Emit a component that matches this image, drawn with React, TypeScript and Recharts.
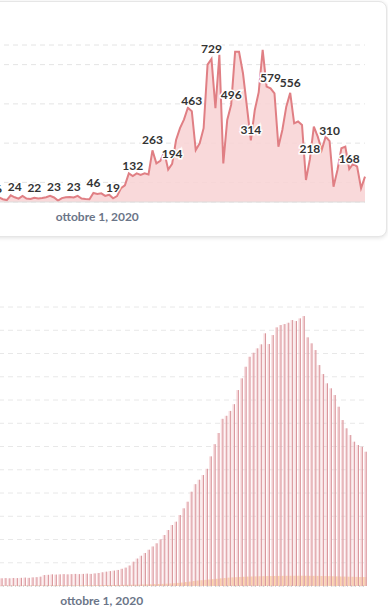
import React from 'react';
import { AreaChart, Area, BarChart, Bar, XAxis, YAxis, CartesianGrid, LabelList } from 'recharts';

// giorni dal 5 settembre all'8 dicembre 2020
const days = [
  '09-05', '09-06', '09-07', '09-08', '09-09', '09-10', '09-11', '09-12', '09-13', '09-14',
  '09-15', '09-16', '09-17', '09-18', '09-19', '09-20', '09-21', '09-22', '09-23', '09-24',
  '09-25', '09-26', '09-27', '09-28', '09-29', '09-30',
  '10-01', '10-02', '10-03', '10-04', '10-05', '10-06', '10-07', '10-08', '10-09', '10-10',
  '10-11', '10-12', '10-13', '10-14', '10-15', '10-16', '10-17', '10-18', '10-19', '10-20',
  '10-21', '10-22', '10-23', '10-24', '10-25', '10-26', '10-27', '10-28', '10-29', '10-30', '10-31',
  '11-01', '11-02', '11-03', '11-04', '11-05', '11-06', '11-07', '11-08', '11-09', '11-10',
  '11-11', '11-12', '11-13', '11-14', '11-15', '11-16', '11-17', '11-18', '11-19', '11-20',
  '11-21', '11-22', '11-23', '11-24', '11-25', '11-26', '11-27', '11-28', '11-29', '11-30',
  '12-01', '12-02', '12-03', '12-04', '12-05', '12-06', '12-07', '12-08',
];

const daily = [
  16, 24, 14, 10, 34, 24, 17, 31, 18, 15,
  22, 18, 20, 24, 31, 23, 7, 20, 24, 25,
  23, 31, 18, 15, 14, 46, 41, 44, 31, 37,
  19, 30, 70, 85, 146, 132, 146, 138, 146, 140,
  263, 197, 210, 255, 165, 194, 316, 376, 420, 480,
  463, 265, 299, 376, 700, 729, 478, 750, 197, 418,
  496, 765, 765, 656, 486, 314, 469, 560, 775, 588,
  579, 554, 282, 367, 486, 556, 401, 410, 393, 112,
  218, 384, 333, 265, 333, 310, 78, 163, 274, 282,
  168, 195, 180, 70, 129,
];

const ward = [
  330, 340, 330, 345, 340, 350, 360, 350, 370, 380,
  400, 470, 480, 500, 490, 500, 510, 500, 510, 520,
  510, 520, 530, 520, 540, 560, 590, 615, 640, 660,
  690, 740, 790, 880, 1045, 1180, 1300, 1420, 1560, 1700,
  1836, 2008, 2193, 2408, 2623, 2765, 3053, 3341, 3625, 4055,
  4380, 4570, 4773, 5040, 5575, 6100, 6580, 7190, 7320, 7530,
  7820, 8428, 8931, 9430, 9860, 10032, 10221, 10393, 10866, 10406,
  10793, 11124, 11223, 11266, 11322, 11438, 11395, 11510, 11610, 10694,
  10436, 10148, 9503, 9116, 8716, 8501, 8213, 7710, 7138, 6781,
  6493, 6205, 6063, 5990, 5775,
];

const icu = [
  18, 20, 19, 21, 20, 22, 21, 23, 22, 24,
  25, 24, 26, 27, 26, 28, 29, 28, 30, 31,
  30, 32, 33, 35, 34, 36, 38, 40, 41, 43,
  45, 47, 50, 52, 55, 58, 61, 65, 70, 75,
  80, 86, 92, 100, 110, 120, 135, 150, 170, 190,
  215, 235, 250, 265, 280, 295, 310, 330, 345, 360,
  372, 380, 390, 398, 405, 410, 415, 420, 425, 428,
  430, 432, 434, 436, 438, 440, 440, 441, 442, 440,
  438, 436, 434, 430, 428, 425, 420, 415, 410, 405,
  400, 396, 392, 388, 385,
];

const dateTicks = ['10-01'];
const dateLabel = 'ottobre 1, 2020';
const topTicks = [0, 100, 200, 300, 400, 500, 600, 700];
const bottomTicks = [0, 1000, 2000, 3000, 4000, 5000, 6000, 7000, 8000, 9000, 10000, 11000];

const topData = days.map((day, i) => ({ day, value: daily[i] }));
const bottomData = days.map((day, i) => ({ day, ward: ward[i], icu: icu[i] }));

const font = 'Lato, "Open Sans", sans-serif';
const tickStyle = { fontSize: 12, fontWeight: 700, fill: '#6b7588', fontFamily: font };

const EveryFifth = (props: any) => {
  const { x, y, value, index } = props;
  if (index % 5 !== 0) return null;
  return (
    <text
      x={x}
      y={y - 6}
      textAnchor="middle"
      fontSize={12}
      fontWeight={700}
      fontFamily={font}
      fill="#333"
      stroke="#fff"
      strokeWidth={3}
      paintOrder="stroke"
    >
      {value}
    </text>
  );
};

const StripeBar = (props: any) => {
  const { x, y, width, height } = props;
  if (!height || height <= 0) return null;
  return (
    <g>
      <rect x={x} y={y} width={width} height={height} fill="#f2c4c8" fillOpacity={0.6} />
      <rect x={x + width - 1} y={y} width={1} height={height} fill="#d9979d" />
    </g>
  );
};

export default function App() {
  return (
    <div style={{ position: 'absolute', left: 0, top: 0, width: 388, height: 612, overflow: 'hidden', background: '#fff' }}>
      <div
        style={{
          position: 'absolute',
          left: -20,
          top: 1,
          width: 405,
          height: 234,
          border: '1px solid #e6e6e6',
          borderRadius: 8,
          boxShadow: '0 1px 4px rgba(0,0,0,0.12)',
          background: '#fff',
        }}
      />
      <div style={{ position: 'absolute', left: -25, top: 0 }}>
        <AreaChart width={410} height={240} data={topData} margin={{ top: 45, right: 20, left: 20, bottom: 8 }}>
          <CartesianGrid vertical={false} stroke="#e4e4e4" strokeDasharray="5 4" />
          <XAxis
            dataKey="day"
            ticks={dateTicks}
            tickFormatter={() => dateLabel}
            tick={tickStyle}
            tickLine={false}
            tickMargin={4}
            axisLine={{ stroke: '#dddddd' }}
            interval={0}
          />
          <YAxis hide domain={[0, 800]} ticks={topTicks} />
          <Area
            type="linear"
            dataKey="value"
            stroke="#e07f84"
            strokeWidth={2}
            fill="#f8d2d3"
            fillOpacity={0.85}
            dot={false}
            activeDot={false}
            isAnimationActive={false}
          >
            <LabelList dataKey="value" content={EveryFifth} />
          </Area>
        </AreaChart>
      </div>
      <div style={{ position: 'absolute', left: -21, top: 280 }}>
        <BarChart width={408} height={330} data={bottomData} margin={{ top: 27, right: 20, left: 20, bottom: 0 }}>
          <CartesianGrid xAxisId="p" vertical={false} stroke="#e8e8e8" strokeDasharray="5 4" />
          <XAxis
            xAxisId="p"
            dataKey="day"
            height={24}
            ticks={dateTicks}
            tickFormatter={() => dateLabel}
            tick={tickStyle}
            tickLine={false}
            tickMargin={4}
            axisLine={{ stroke: '#b8b8b8', strokeDasharray: '1 3' }}
            interval={0}
          />
          <XAxis xAxisId="o" dataKey="day" hide height={0} />
          <YAxis hide domain={[0, 12000]} ticks={bottomTicks} />
          <Bar xAxisId="o" dataKey="icu" barSize={4} fill="#fdd7a8" isAnimationActive={false} />
          <Bar xAxisId="p" dataKey="ward" barSize={2.6} shape={StripeBar} isAnimationActive={false} />
        </BarChart>
      </div>
    </div>
  );
}
